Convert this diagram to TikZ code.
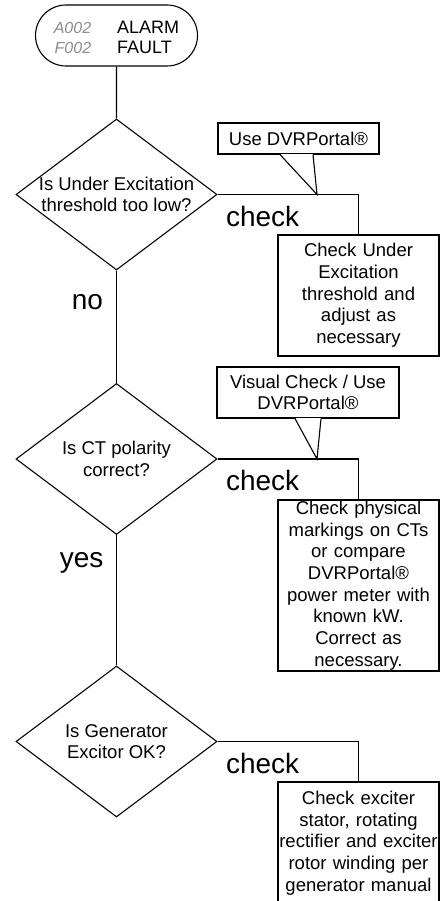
\documentclass[tikz,border=0pt]{standalone}
\usepackage{fontspec}
\setmainfont{Liberation Sans}
\usetikzlibrary{shapes.geometric,shapes.misc}

\newcommand{\bodyfont}{\fontsize{18.5}{21.7}\selectfont}
\newcommand{\bigfont}{\fontsize{28}{32}\selectfont}
\newcommand{\codefont}{\fontsize{16}{20}\selectfont\itshape\color{black!45}}

\begin{document}
\begin{tikzpicture}[
	x=1pt, y=-1pt, line width=1.1pt,
	terminal/.style={ rounded rectangle, draw, inner sep=0pt, minimum width=162pt, minimum height=61pt },
	decision/.style={ diamond, draw, inner sep=0pt, minimum width=201pt, minimum height=151pt },
	dtext/.style={ font=\bodyfont, align=center, inner sep=0pt },
	action/.style={ rectangle, draw, font=\bodyfont, align=center, text width=161pt, inner sep=0pt },
	hint/.style={ rectangle, draw, fill=white, font=\bodyfont, align=center, inner sep=0pt },
	answer/.style={ font=\bigfont, inner sep=0pt }
]
\useasboundingbox (0,0) rectangle (445,901);

\node at (116.5,35.5) (alarm) [terminal] {\fontsize{18}{20}\selectfont
	\begin{tabular}{@{}r@{\hspace{26pt}}l@{}}
	\rule{0pt}{22pt}{\codefont A002} & ALARM\\
	{\codefont F002} & FAULT
	\end{tabular}};

\node at (116.5,194.5) (q1) [decision, label={[dtext]center:{Is Under Excitation\\threshold too low?}}] {};
\node at (116.5,459) (q2) [decision, label={[dtext]center:{Is CT polarity\\correct?}}] {};
\node at (116.5,741.5) (q3) [decision, label={[dtext]center:{Is Generator\\Excitor OK?}}] {};
\draw (alarm) to (q1);
\draw (q1) to node[answer, pos=0.28, left=13pt] {no} (q2);
\draw (q2) to node[answer, pos=0.21, left=12.5pt] {yes} (q3);

\node at (358.5,295.5) (act1) [action, minimum height=121pt] {Check Under\\Excitation\\threshold and\\adjust as\\necessary};
\node at (358.5,585.5) (act2) [action, minimum height=171pt] {Check physical\\markings on CTs\\or compare\\DVRPortal®\\power meter with\\known kW.\\Correct as\\necessary.};
\node at (358.5,843) (act3) [action, minimum height=122pt] {Check exciter\\stator, rotating\\rectifier and exciter\\rotor winding per\\generator manual};
\draw (q1.east) -| node[answer, pos=0.16, below=11pt] {check} (act1.north);
\draw (q2.east) -| node[answer, pos=0.16, below=11pt] {check} (act2.north);
\draw (q3.east) -| node[answer, pos=0.16, below=11pt] {check} (act3.north);

% callouts
\coordinate (tip1) at (317,194.5);
\coordinate (tip2) at (317,459);
\node at (298.5,138.5) (hint1) [hint, minimum width=161pt, minimum height=31pt] {Use DVRPortal®};
\fill[white] ([xshift=-18pt,yshift=0.8pt]hint1.south) rectangle ([xshift=14pt,yshift=-0.8pt]hint1.south);
\draw ([xshift=-18.5pt]hint1.south) -- (tip1) -- ([xshift=14.5pt]hint1.south);
\node at (308,392.5) (hint2) [hint, minimum width=182pt, minimum height=51pt] {Visual Check / Use\\DVRPortal®};
\fill[white] ([xshift=-12.5pt,yshift=0.8pt]hint2.south) rectangle ([xshift=12.5pt,yshift=-0.8pt]hint2.south);
\draw ([xshift=-13pt]hint2.south) -- (tip2) -- ([xshift=13pt]hint2.south);

\end{tikzpicture}
\end{document}
